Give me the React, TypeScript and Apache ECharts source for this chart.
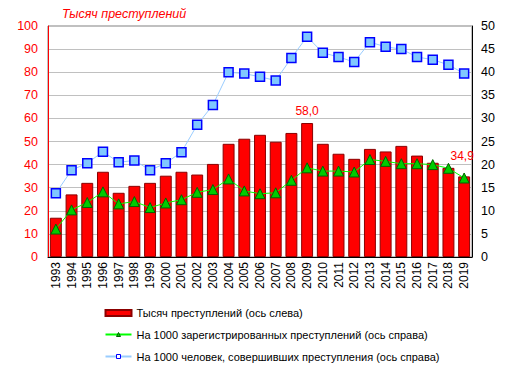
import React, { useEffect, useRef } from "react";
import * as echarts from "echarts";

const years = [
  "1993","1994","1995","1996","1997","1998","1999","2000","2001","2002","2003","2004","2005","2006",
  "2007","2008","2009","2010","2011","2012","2013","2014","2015","2016","2017","2018","2019",
];
const crimesThousands = [
  17.0, 27.1, 32.1, 36.9, 27.8, 30.8, 32.1, 35.2, 36.9, 35.7, 40.3, 49.0, 51.2, 52.9,
  49.9, 53.7, 58.0, 49.0, 44.7, 42.5, 46.8, 45.7, 48.1, 43.9, 40.8, 38.6, 34.9,
];
const per1000Registered = [
  6.05, 10.2, 11.8, 14.1, 11.5, 12.0, 10.7, 11.7, 12.4, 14.0, 14.6, 16.9, 14.3, 13.7,
  13.9, 16.6, 19.3, 18.6, 18.6, 18.4, 21.1, 20.7, 20.2, 20.2, 20.0, 19.2, 17.1,
];
const per1000Persons = [
  13.8, 18.8, 20.3, 22.8, 20.5, 20.9, 18.8, 20.3, 22.7, 28.6, 32.9, 40.0, 39.7, 39.0,
  38.2, 43.1, 47.7, 44.2, 43.3, 42.2, 46.5, 45.5, 45.0, 43.3, 42.7, 41.6, 39.7,
];
const labeledYears = ["2009", "2019"];

const seriesNames = [
  "Тысяч преступлений (ось слева)",
  "На 1000 зарегистрированных преступлений (ось справа)",
  "На 1000 человек, совершивших преступления (ось справа)",
];

const FONT = "Liberation Sans, Arial, sans-serif";

export default function App() {
  const ref = useRef<HTMLDivElement>(null);
  useEffect(() => {
    if (!ref.current) return;
    const chart = echarts.init(ref.current, undefined, { renderer: "svg" });
    const barData = crimesThousands.map((v, i) => {
      const y = years[i];
      if (!labeledYears.includes(y)) return v;
      return {
        value: v,
        label: {
          show: true,
          position: "top",
          color: "#ff0000",
          fontSize: 12,
          fontFamily: FONT,
          distance: y === "2019" ? 14 : 6,
          offset: y === "2019" ? [-2, 0] : [0, 0],
          formatter: (p: any) => p.value.toFixed(1).replace(".", ","),
        },
      };
    });
    const legendBase = {
      orient: "vertical",
      left: 104.5,
      padding: 0,
      itemWidth: 26,
      textStyle: { fontSize: 11, color: "#000", fontFamily: FONT },
      selectedMode: false,
    };
    chart.setOption({
      animation: false,
      textStyle: { fontFamily: FONT },
      graphic: [
        {
          type: "text",
          left: 62,
          top: 7,
          style: {
            text: "Тысяч преступлений",
            fill: "#ff0000",
            font: "italic 12.5px " + FONT,
          },
        },
      ],
      grid: {
        left: 48,
        right: 40,
        top: 26,
        bottom: 117,
        show: true,
        borderColor: "#808080",
        borderWidth: 1,
      },
      legend: [
        { ...legendBase, itemHeight: 6, top: 307.5, data: [{ name: seriesNames[0], icon: "rect" }] },
        {
          ...legendBase,
          itemHeight: 5,
          top: 329,
          itemStyle: { borderWidth: 1 },
          data: [seriesNames[1]],
        },
        {
          ...legendBase,
          itemHeight: 5,
          top: 351,
          itemStyle: { borderWidth: 1, color: "#ffffff" },
          data: [seriesNames[2]],
        },
      ],
      xAxis: {
        type: "category",
        data: years,
        axisLine: { lineStyle: { color: "#000" } },
        axisTick: { show: false },
        axisLabel: {
          rotate: 90,
          interval: 0,
          color: "#000",
          fontSize: 12,
          fontFamily: FONT,
          margin: 5,
        },
      },
      yAxis: [
        {
          type: "value",
          min: 0,
          max: 100,
          interval: 10,
          position: "left",
          axisLine: { show: true, lineStyle: { color: "#ff0000", width: 1 } },
          axisTick: { show: false },
          axisLabel: { color: "#ff0000", fontSize: 12.5, fontFamily: FONT, margin: 10 },
          splitLine: { lineStyle: { color: "#c0c0c0" } },
        },
        {
          type: "value",
          min: 0,
          max: 50,
          interval: 5,
          position: "right",
          axisLine: { show: true, lineStyle: { color: "#000", width: 1 } },
          axisTick: { show: false },
          axisLabel: { color: "#000", fontSize: 12.5, fontFamily: FONT, margin: 9 },
          splitLine: { show: false },
        },
      ],
      series: [
        {
          name: seriesNames[0],
          type: "bar",
          yAxisIndex: 0,
          data: barData,
          barCategoryGap: "24%",
          itemStyle: { color: "#ff0000", borderColor: "#8b0000", borderWidth: 1 },
        },
        {
          name: seriesNames[1],
          type: "line",
          yAxisIndex: 1,
          data: per1000Registered,
          symbol: "triangle",
          symbolSize: 10,
          lineStyle: { color: "#00ff00", width: 1 },
          itemStyle: { color: "#00cc00", borderColor: "#006400", borderWidth: 1 },
        },
        {
          name: seriesNames[2],
          type: "line",
          yAxisIndex: 1,
          data: per1000Persons,
          symbol: "rect",
          symbolSize: 9,
          lineStyle: { color: "#99ccff", width: 1 },
          itemStyle: { color: "#80c8ff", borderColor: "#0000ff", borderWidth: 1.5 },
        },
      ],
    });
    return () => chart.dispose();
  }, []);
  return <div ref={ref} style={{ width: 512, height: 374, margin: -8 }} />;
}
